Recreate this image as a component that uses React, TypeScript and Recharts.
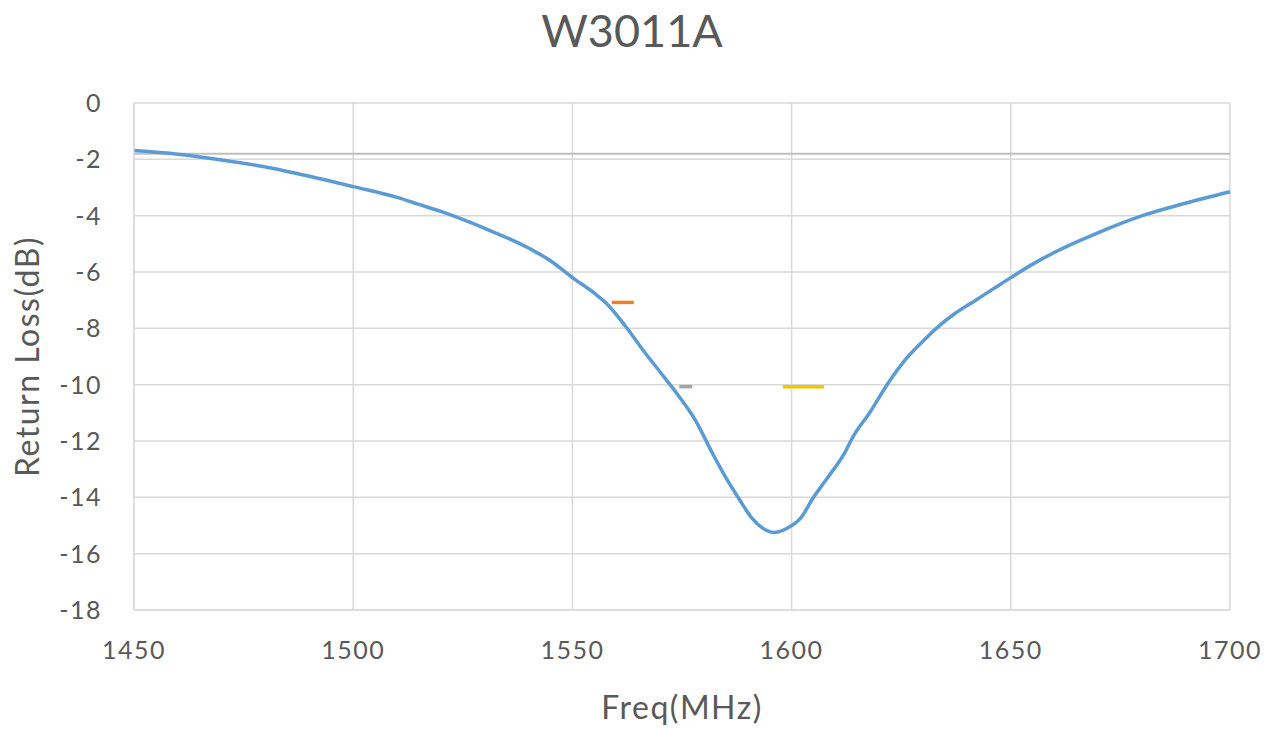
import { CartesianGrid, Label, Line, LineChart, ReferenceLine, XAxis, YAxis } from 'recharts';

const freqs = [
  1450, 1460, 1470, 1480, 1490, 1500, 1510, 1515, 1520, 1530, 1540, 1545, 1550, 1555, 1558, 1562, 1566,
  1570, 1574, 1578, 1582, 1585, 1588, 1591, 1594, 1596, 1599, 1602, 1605, 1608, 1612, 1614, 1618, 1622,
  1626, 1630, 1633, 1637, 1642, 1646, 1650, 1655, 1660, 1670, 1680, 1690, 1700,
];
const returnLoss = [
  -1.69, -1.82, -2.02, -2.27, -2.6, -2.97, -3.35, -3.6, -3.85, -4.45, -5.15, -5.6, -6.2, -6.75, -7.15,
  -7.9, -8.75, -9.55, -10.35, -11.25, -12.45, -13.3, -14.05, -14.75, -15.15, -15.25, -15.1, -14.75, -14.0,
  -13.35, -12.45, -11.85, -10.95, -9.95, -9.1, -8.45, -8.0, -7.5, -7.0, -6.6, -6.2, -5.72, -5.3, -4.6,
  -4.0, -3.55, -3.15,
];
const bandB1 = [{ f: 1559, v: -7.08 }, { f: 1564, v: -7.08 }];
const bandL1 = [{ f: 1574.4, v: -10.07 }, { f: 1577.3, v: -10.07 }];
const bandGlonass = [{ f: 1598, v: -10.07 }, { f: 1607.4, v: -10.07 }];
const limitLevel = -1.8;
const xTicks = [1450, 1500, 1550, 1600, 1650, 1700];
const yTicks = [0, -2, -4, -6, -8, -10, -12, -14, -16, -18];

const curve = freqs.map((f, i) => ({ f, v: returnLoss[i] }));
const font = 'Lato, "Open Sans", sans-serif';
const tick = { fontSize: 25, fill: '#595959', fontFamily: font, letterSpacing: 1.5 };
const axisTitle = { fontSize: 32, fill: '#595959', fontFamily: font, letterSpacing: 1.5 };

export default function App() {
  return (
    <div style={{ position: 'absolute', left: 0, top: 0, width: 1276, height: 729, background: '#fff' }}>
      <div
        style={{
          position: 'absolute', top: 3, left: 0, width: 1264, textAlign: 'center',
          fontFamily: font, fontSize: 45, color: '#595959', lineHeight: '54px',
        }}
      >
        W3011A
      </div>
      <LineChart width={1276} height={729} margin={{ top: 103, right: 46, left: 74, bottom: 59 }}>
        <CartesianGrid stroke="#d9d9d9" strokeWidth={1.5} />
        <XAxis
          type="number" dataKey="f" domain={[1450, 1700]} ticks={xTicks} height={60}
          tick={tick} tickLine={false} axisLine={{ stroke: '#d9d9d9' }} tickMargin={25}
          allowDuplicatedCategory={false}
        >
          <Label value="Freq(MHz)" position="bottom" offset={26} style={axisTitle} />
        </XAxis>
        <YAxis
          type="number" dataKey="v" domain={[-18, 0]} ticks={yTicks} width={60}
          tick={tick} tickLine={false} axisLine={{ stroke: '#d9d9d9' }} tickMargin={26}
        >
          <Label value="Return Loss(dB)" angle={-90} position="insideLeft" offset={-46}
            style={{ ...axisTitle, textAnchor: 'middle' }} />
        </YAxis>
        <ReferenceLine y={limitLevel} stroke="#bfbfbf" strokeWidth={2} />
        <Line data={curve} dataKey="v" stroke="#5b9bd5" strokeWidth={3.5} dot={false} type="monotone" isAnimationActive={false} />
        <Line data={bandB1} dataKey="v" stroke="#ed7d31" strokeWidth={3.5} dot={false} isAnimationActive={false} />
        <Line data={bandL1} dataKey="v" stroke="#a5a5a5" strokeWidth={3.5} dot={false} isAnimationActive={false} />
        <Line data={bandGlonass} dataKey="v" stroke="#ffc000" strokeWidth={3.5} dot={false} isAnimationActive={false} />
      </LineChart>
    </div>
  );
}
